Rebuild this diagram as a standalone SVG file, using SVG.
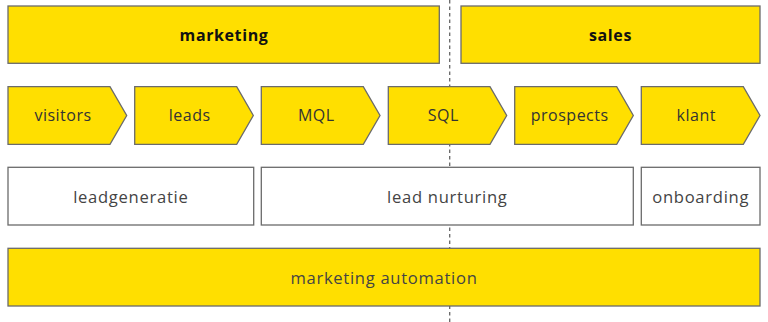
<svg xmlns="http://www.w3.org/2000/svg" width="768" height="322" viewBox="0 0 768 322">
<style>
.y{fill:#FFDF00;stroke:#6b6b6b;stroke-width:1.3}
.w{fill:#ffffff;stroke:#6b6b6b;stroke-width:1.3}
.h{font-family:"Open Sans","Liberation Sans",sans-serif;font-size:16px;font-weight:bold;fill:#111;text-anchor:middle;letter-spacing:0.6px}
.t{font-family:"Open Sans","Liberation Sans",sans-serif;font-size:16px;fill:#333;text-anchor:middle;letter-spacing:0.5px}
.l{font-family:"Open Sans","Liberation Sans",sans-serif;font-size:16.6px;fill:#444;text-anchor:middle;letter-spacing:0.7px}
.d{stroke:#666;stroke-width:1.3;stroke-dasharray:3.5 3;fill:none}
</style>
<g id="connectors">
<line class="d" x1="449.7" y1="0" x2="449.7" y2="322"/>
</g>
<g id="marketing"><rect class="y" x="8" y="6" width="431.3" height="57.3"/><text class="h" x="224" y="40.5">marketing</text></g>
<g id="sales"><rect class="y" x="461" y="6" width="299" height="57.3"/><text class="h" x="610.5" y="40.5">sales</text></g>
<g id="visitors"><path class="y" d="M8 86.7H110L126.7 115.5L110 144.3H8Z"/><text class="t" x="63" y="121.3">visitors</text></g>
<g id="leads"><path class="y" d="M134.7 86.7H236.7L253.3 115.5L236.7 144.3H134.7Z"/><text class="t" x="189.7" y="121.3">leads</text></g>
<g id="mql"><path class="y" d="M261.3 86.7H363.3L380 115.5L363.3 144.3H261.3Z"/><text class="t" x="316.3" y="121.3">MQL</text></g>
<g id="sql"><path class="y" d="M388.3 86.7H490L506.7 115.5L490 144.3H388.3Z"/><text class="t" x="443.3" y="121.3">SQL</text></g>
<g id="prospects"><path class="y" d="M514.7 86.7H616.7L633.3 115.5L616.7 144.3H514.7Z"/><text class="t" x="569.7" y="121.3">prospects</text></g>
<g id="klant"><path class="y" d="M641.3 86.7H743.3L760 115.5L743.3 144.3H641.3Z"/><text class="t" x="696.3" y="121.3">klant</text></g>
<g id="leadgeneratie"><rect class="w" x="8" y="167.3" width="245.7" height="57.7"/><text class="l" x="130.8" y="202.5">leadgeneratie</text></g>
<g id="leadnurturing"><rect class="w" x="261.3" y="167.3" width="372" height="57.7"/><text class="l" x="447.3" y="202.5">lead nurturing</text></g>
<g id="onboarding"><rect class="w" x="641.3" y="167.3" width="118.7" height="57.7"/><text class="l" x="700.7" y="202.5">onboarding</text></g>
<g id="automation"><rect class="y" x="8" y="248.3" width="752" height="57.7"/><text class="l" x="384" y="283.5">marketing automation</text></g>
</svg>
